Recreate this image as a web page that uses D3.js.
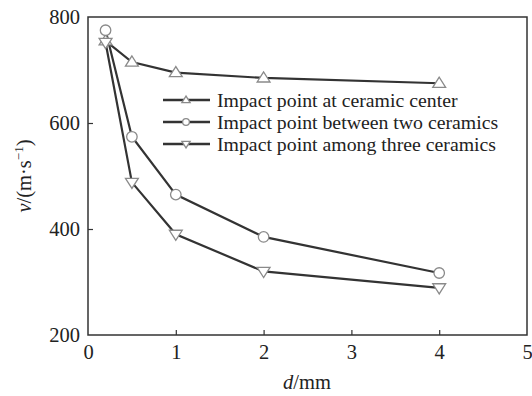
<!DOCTYPE html>
<html><head><meta charset="utf-8">
<script src="https://cdn.jsdelivr.net/npm/d3@7"></script>
<style>body{margin:0;background:#fff}svg{display:block}</style>
</head><body><svg id="c" width="532" height="396"></svg>
<script>
const xValues = [0.2, 0.5, 1, 2, 4];
const seriesNames = ["Impact point at ceramic center","Impact point between two ceramics","Impact point among three ceramics"];
const centerVals = [755, 715, 695, 685, 675];
const twoVals = [775, 574, 465, 385, 317];
const threeVals = [752, 488, 390, 320, 289];
const xTicks = [0,1,2,3,4,5];
const yTicks = [200,400,600,800];
const symbols = ["up","circle","down"];

const FONT = "Liberation Serif, Times New Roman, Times, serif";
const svg = d3.select("#c").attr("font-family",FONT);
const L=88, R=527, T=17, B=335;
const x = d3.scaleLinear().domain([0,5]).range([L,R]);
const y = d3.scaleLinear().domain([200,800]).range([B,T]);
const ink="#333", mk="#8a8a8a";

svg.append("rect").attr("x",L).attr("y",T).attr("width",R-L).attr("height",B-T)
  .attr("fill","none").attr("stroke",ink).attr("stroke-width",1.5);

const xa = svg.append("g").attr("transform",`translate(0,${B})`)
  .call(d3.axisBottom(x).tickValues(xTicks).tickSize(-5).tickPadding(9).tickFormat(d3.format("d")));
const ya = svg.append("g").attr("transform",`translate(${L},0)`)
  .call(d3.axisLeft(y).tickValues(yTicks).tickSize(-5).tickPadding(8));
[xa,ya].forEach(a=>{a.attr("font-family",FONT).attr("font-size",20.5);
  a.select(".domain").remove();
  a.selectAll("line").attr("stroke",ink).attr("stroke-width",1.2);
  a.selectAll("text").attr("fill","#222");});
xa.selectAll(".tick").filter(d=>d===0||d===5).select("line").remove();
ya.selectAll(".tick").filter(d=>d===200||d===800).select("line").remove();

function marker(g, type, cx, cy, s){
  if(type==="circle"){
    g.append("circle").attr("cx",cx).attr("cy",cy).attr("r",s*0.75).attr("fill","#fff").attr("stroke",mk).attr("stroke-width",1.3);
  } else {
    const d = type==="up"?1:-1;
    const h = s*1.45, w = s*0.92;
    const pts = [[cx,cy-d*h*0.6],[cx-w,cy+d*h*0.4],[cx+w,cy+d*h*0.4]];
    g.append("polygon").attr("points",pts.map(p=>p.join(",")).join(" "))
      .attr("fill","#fff").attr("stroke",mk).attr("stroke-width",1.3);
  }
}

const all=[centerVals,twoVals,threeVals];
const line = d3.line().x((d,i)=>x(xValues[i])).y(d=>y(d));
all.forEach(vals=>{
  svg.append("path").attr("d",line(vals)).attr("fill","none").attr("stroke",ink).attr("stroke-width",2.2);
});
all.forEach((vals,k)=>{
  const g=svg.append("g");
  vals.forEach((v,i)=>marker(g,symbols[k],x(xValues[i]),y(v),7));
});

const lg=svg.append("g");
seriesNames.forEach((n,k)=>{
  const yy=100+k*22;
  lg.append("line").attr("x1",163).attr("x2",210).attr("y1",yy).attr("y2",yy).attr("stroke",ink).attr("stroke-width",2.4);
  marker(lg,symbols[k],186,yy,4.5);
  lg.append("text").attr("x",217).attr("y",yy+6.5).attr("font-size",19.8).attr("fill","#222").text(n);
});

svg.append("text").attr("x",307).attr("y",389).attr("text-anchor","middle").attr("font-size",20.5).attr("fill","#222")
  .html('<tspan font-style="italic">d</tspan>/mm');
svg.append("text").attr("transform","translate(31,176) rotate(-90)").attr("text-anchor","middle").attr("font-size",20.5).attr("fill","#222")
  .html('<tspan font-style="italic">v</tspan>/(m·s<tspan dy="-8" font-size="13">−1</tspan><tspan dy="8">)</tspan>');
</script></body></html>
